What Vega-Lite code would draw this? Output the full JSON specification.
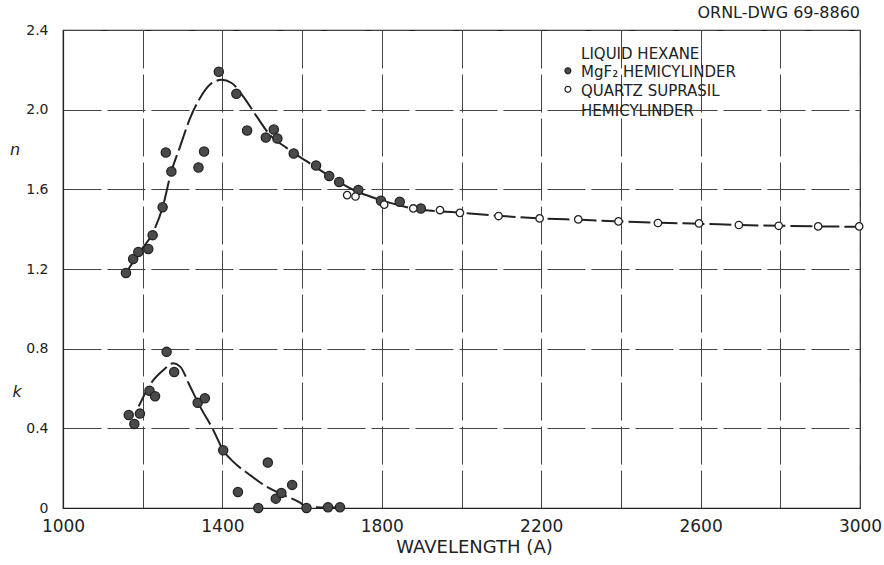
{
  "$schema": "https://vega.github.io/schema/vega-lite/v6.json",
  "autosize": {"type": "none"},
  "padding": {"left": 63, "top": 30, "right": 24, "bottom": 57},
  "width": 797,
  "height": 478,
  "background": "white",
  "title": {"text": "ORNL-DWG 69-8860", "anchor": "end", "frame": "group", "offset": 2, "font": "DejaVu Sans", "fontSize": 16, "fontWeight": "normal", "color": "#222"},
  "config": {
    "view": {"stroke": "#222", "strokeWidth": 1.2},
    "axis": {"domainColor": "#222", "domainWidth": 1.2, "gridColor": "#444", "gridDash": [38, 6], "gridWidth": 1, "ticks": false, "labelFont": "DejaVu Sans", "labelColor": "#222", "titleFont": "DejaVu Sans", "titleFontWeight": "normal", "titleColor": "#222"}
  },
  "datasets": {
    "points": [
      {"wavelength": 1158, "value": 1.18, "sample": "MgF2"},
      {"wavelength": 1176, "value": 1.25, "sample": "MgF2"},
      {"wavelength": 1189, "value": 1.285, "sample": "MgF2"},
      {"wavelength": 1214, "value": 1.30, "sample": "MgF2"},
      {"wavelength": 1225, "value": 1.37, "sample": "MgF2"},
      {"wavelength": 1250, "value": 1.51, "sample": "MgF2"},
      {"wavelength": 1258, "value": 1.785, "sample": "MgF2"},
      {"wavelength": 1272, "value": 1.69, "sample": "MgF2"},
      {"wavelength": 1340, "value": 1.71, "sample": "MgF2"},
      {"wavelength": 1354, "value": 1.79, "sample": "MgF2"},
      {"wavelength": 1391, "value": 2.19, "sample": "MgF2"},
      {"wavelength": 1435, "value": 2.08, "sample": "MgF2"},
      {"wavelength": 1462, "value": 1.895, "sample": "MgF2"},
      {"wavelength": 1509, "value": 1.86, "sample": "MgF2"},
      {"wavelength": 1529, "value": 1.90, "sample": "MgF2"},
      {"wavelength": 1538, "value": 1.855, "sample": "MgF2"},
      {"wavelength": 1579, "value": 1.78, "sample": "MgF2"},
      {"wavelength": 1635, "value": 1.72, "sample": "MgF2"},
      {"wavelength": 1668, "value": 1.667, "sample": "MgF2"},
      {"wavelength": 1693, "value": 1.637, "sample": "MgF2"},
      {"wavelength": 1741, "value": 1.597, "sample": "MgF2"},
      {"wavelength": 1798, "value": 1.543, "sample": "MgF2"},
      {"wavelength": 1845, "value": 1.538, "sample": "MgF2"},
      {"wavelength": 1898, "value": 1.504, "sample": "MgF2"},
      {"wavelength": 1713, "value": 1.571, "sample": "Quartz"},
      {"wavelength": 1734, "value": 1.564, "sample": "Quartz"},
      {"wavelength": 1806, "value": 1.523, "sample": "Quartz"},
      {"wavelength": 1879, "value": 1.504, "sample": "Quartz"},
      {"wavelength": 1946, "value": 1.496, "sample": "Quartz"},
      {"wavelength": 1996, "value": 1.482, "sample": "Quartz"},
      {"wavelength": 2093, "value": 1.466, "sample": "Quartz"},
      {"wavelength": 2196, "value": 1.454, "sample": "Quartz"},
      {"wavelength": 2293, "value": 1.449, "sample": "Quartz"},
      {"wavelength": 2394, "value": 1.439, "sample": "Quartz"},
      {"wavelength": 2493, "value": 1.431, "sample": "Quartz"},
      {"wavelength": 2596, "value": 1.429, "sample": "Quartz"},
      {"wavelength": 2696, "value": 1.421, "sample": "Quartz"},
      {"wavelength": 2796, "value": 1.417, "sample": "Quartz"},
      {"wavelength": 2895, "value": 1.414, "sample": "Quartz"},
      {"wavelength": 2998, "value": 1.414, "sample": "Quartz"},
      {"wavelength": 1165, "value": 0.467, "sample": "MgF2"},
      {"wavelength": 1179, "value": 0.422, "sample": "MgF2"},
      {"wavelength": 1193, "value": 0.474, "sample": "MgF2"},
      {"wavelength": 1217, "value": 0.589, "sample": "MgF2"},
      {"wavelength": 1231, "value": 0.561, "sample": "MgF2"},
      {"wavelength": 1260, "value": 0.784, "sample": "MgF2"},
      {"wavelength": 1279, "value": 0.683, "sample": "MgF2"},
      {"wavelength": 1338, "value": 0.528, "sample": "MgF2"},
      {"wavelength": 1356, "value": 0.551, "sample": "MgF2"},
      {"wavelength": 1402, "value": 0.290, "sample": "MgF2"},
      {"wavelength": 1439, "value": 0.080, "sample": "MgF2"},
      {"wavelength": 1490, "value": 0.0, "sample": "MgF2"},
      {"wavelength": 1514, "value": 0.228, "sample": "MgF2"},
      {"wavelength": 1534, "value": 0.047, "sample": "MgF2"},
      {"wavelength": 1548, "value": 0.075, "sample": "MgF2"},
      {"wavelength": 1575, "value": 0.116, "sample": "MgF2"},
      {"wavelength": 1611, "value": 0.0, "sample": "MgF2"},
      {"wavelength": 1665, "value": 0.004, "sample": "MgF2"},
      {"wavelength": 1695, "value": 0.004, "sample": "MgF2"}
    ],
    "curves": [
      {"quantity": "n", "wavelength": 1158, "value": 1.18},
      {"quantity": "n", "wavelength": 1193, "value": 1.288},
      {"quantity": "n", "wavelength": 1225, "value": 1.38},
      {"quantity": "n", "wavelength": 1250, "value": 1.51},
      {"quantity": "n", "wavelength": 1272, "value": 1.69},
      {"quantity": "n", "wavelength": 1294, "value": 1.816},
      {"quantity": "n", "wavelength": 1319, "value": 1.958},
      {"quantity": "n", "wavelength": 1344, "value": 2.059},
      {"quantity": "n", "wavelength": 1369, "value": 2.126},
      {"quantity": "n", "wavelength": 1398, "value": 2.15},
      {"quantity": "n", "wavelength": 1423, "value": 2.134},
      {"quantity": "n", "wavelength": 1452, "value": 2.067},
      {"quantity": "n", "wavelength": 1486, "value": 1.966},
      {"quantity": "n", "wavelength": 1519, "value": 1.874},
      {"quantity": "n", "wavelength": 1561, "value": 1.808},
      {"quantity": "n", "wavelength": 1612, "value": 1.74},
      {"quantity": "n", "wavelength": 1670, "value": 1.665},
      {"quantity": "n", "wavelength": 1728, "value": 1.598},
      {"quantity": "n", "wavelength": 1795, "value": 1.548},
      {"quantity": "n", "wavelength": 1879, "value": 1.504},
      {"quantity": "n", "wavelength": 2000, "value": 1.482},
      {"quantity": "n", "wavelength": 2100, "value": 1.466},
      {"quantity": "n", "wavelength": 2200, "value": 1.454},
      {"quantity": "n", "wavelength": 2300, "value": 1.447},
      {"quantity": "n", "wavelength": 2400, "value": 1.439},
      {"quantity": "n", "wavelength": 2500, "value": 1.432},
      {"quantity": "n", "wavelength": 2600, "value": 1.427},
      {"quantity": "n", "wavelength": 2700, "value": 1.421},
      {"quantity": "n", "wavelength": 2800, "value": 1.417},
      {"quantity": "n", "wavelength": 2900, "value": 1.414},
      {"quantity": "n", "wavelength": 3000, "value": 1.412},
      {"quantity": "k", "wavelength": 1190, "value": 0.51},
      {"quantity": "k", "wavelength": 1218, "value": 0.618},
      {"quantity": "k", "wavelength": 1252, "value": 0.693},
      {"quantity": "k", "wavelength": 1277, "value": 0.727},
      {"quantity": "k", "wavelength": 1294, "value": 0.71},
      {"quantity": "k", "wavelength": 1319, "value": 0.61},
      {"quantity": "k", "wavelength": 1344, "value": 0.509},
      {"quantity": "k", "wavelength": 1377, "value": 0.392},
      {"quantity": "k", "wavelength": 1402, "value": 0.29},
      {"quantity": "k", "wavelength": 1427, "value": 0.233},
      {"quantity": "k", "wavelength": 1469, "value": 0.166},
      {"quantity": "k", "wavelength": 1511, "value": 0.107},
      {"quantity": "k", "wavelength": 1553, "value": 0.065},
      {"quantity": "k", "wavelength": 1595, "value": 0.027},
      {"quantity": "k", "wavelength": 1611, "value": 0.005},
      {"quantity": "k", "wavelength": 1650, "value": 0.003},
      {"quantity": "k", "wavelength": 1700, "value": 0.003}
    ],
    "legendmarks": [
      {"wavelength": 2267, "value": 2.195, "sample": "MgF2"},
      {"wavelength": 2267, "value": 2.102, "sample": "Quartz"}
    ],
    "texts": [
      {"wavelength": 2300, "value": 2.256, "text": "LIQUID HEXANE", "kind": "legend"},
      {"wavelength": 2300, "value": 2.163, "text": "MgF₂ HEMICYLINDER", "kind": "legend"},
      {"wavelength": 2300, "value": 2.07, "text": "QUARTZ SUPRASIL", "kind": "legend"},
      {"wavelength": 2300, "value": 1.97, "text": "HEMICYLINDER", "kind": "legend"},
      {"wavelength": 880, "value": 1.8, "text": "n", "kind": "axis"},
      {"wavelength": 885, "value": 0.58, "text": "k", "kind": "axis"}
    ]
  },
  "layer": [
    {
      "data": {"name": "curves"},
      "mark": {"type": "line", "color": "#222", "strokeWidth": 2, "strokeDash": [22, 5], "interpolate": "monotone"},
      "encoding": {
        "x": {"field": "wavelength", "type": "quantitative", "scale": {"domain": [1000, 3000], "nice": false, "zero": false},
          "axis": {"values": [1000, 1200, 1400, 1600, 1800, 2000, 2200, 2400, 2600, 2800, 3000], "labelExpr": "(datum.value - 1000) % 400 == 0 ? datum.label : ''", "format": "d", "title": "WAVELENGTH (A)", "labelFontSize": 17, "titleFontSize": 18, "labelPadding": 10, "titlePadding": 4, "titleX": 411, "labelFlush": false}},
        "y": {"field": "value", "type": "quantitative", "scale": {"domain": [0, 2.4], "nice": false},
          "axis": {"values": [0, 0.4, 0.8, 1.2, 1.6, 2.0, 2.4], "labelExpr": "datum.value == 0 ? '0' : format(datum.value, '.1f')", "title": null, "labelFontSize": 14, "labelPadding": 15, "labelFlush": false}},
        "detail": {"field": "quantity"}
      }
    },
    {
      "data": {"name": "points"},
      "mark": {"type": "point", "filled": false, "stroke": "#222", "strokeWidth": 1.3, "opacity": 1},
      "encoding": {
        "x": {"field": "wavelength", "type": "quantitative"},
        "y": {"field": "value", "type": "quantitative"},
        "fill": {"field": "sample", "type": "nominal", "scale": {"domain": ["MgF2", "Quartz"], "range": ["#4a4a4a", "white"]}, "legend": null},
        "size": {"field": "sample", "type": "nominal", "scale": {"domain": ["MgF2", "Quartz"], "range": [85, 55]}, "legend": null}
      }
    },
    {
      "data": {"name": "legendmarks"},
      "mark": {"type": "point", "filled": false, "stroke": "#222", "strokeWidth": 1.2, "opacity": 1, "size": 35},
      "encoding": {
        "x": {"field": "wavelength", "type": "quantitative"},
        "y": {"field": "value", "type": "quantitative"},
        "fill": {"field": "sample", "type": "nominal", "scale": {"domain": ["MgF2", "Quartz"], "range": ["#4a4a4a", "white"]}, "legend": null}
      }
    },
    {
      "data": {"name": "texts"},
      "transform": [{"filter": "datum.kind == 'legend'"}],
      "mark": {"type": "text", "align": "left", "baseline": "alphabetic", "font": "DejaVu Sans", "fontSize": 15, "color": "#222"},
      "encoding": {
        "x": {"field": "wavelength", "type": "quantitative"},
        "y": {"field": "value", "type": "quantitative"},
        "text": {"field": "text"}
      }
    },
    {
      "data": {"name": "texts"},
      "transform": [{"filter": "datum.kind == 'axis'"}],
      "mark": {"type": "text", "align": "center", "baseline": "middle", "font": "DejaVu Sans", "fontSize": 16, "fontStyle": "italic", "color": "#222"},
      "encoding": {
        "x": {"field": "wavelength", "type": "quantitative"},
        "y": {"field": "value", "type": "quantitative"},
        "text": {"field": "text"}
      }
    }
  ]
}
